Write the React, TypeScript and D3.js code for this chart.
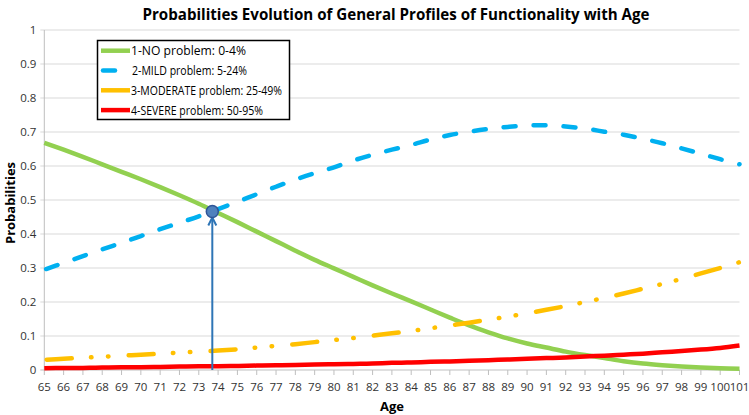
import React from "react";
import * as d3 from "d3";

const ages: number[] = [65,66,67,68,69,70,71,72,73,74,75,76,77,78,79,80,81,82,83,84,85,86,87,88,89,90,91,92,93,94,95,96,97,98,99,100,101];

const noProblem: number[] = [0.668,0.648,0.627,0.605,0.583,0.561,0.538,0.514,0.489,0.462,0.435,0.407,0.379,0.351,0.324,0.299,0.274,0.249,0.225,0.202,0.178,0.154,0.131,0.111,0.093,0.078,0.066,0.054,0.044,0.035,0.026,0.019,0.014,0.010,0.007,0.005,0.004];
const mildProblem: number[] = [0.295,0.315,0.335,0.355,0.374,0.394,0.414,0.433,0.452,0.473,0.495,0.517,0.539,0.560,0.579,0.596,0.616,0.633,0.648,0.662,0.678,0.691,0.701,0.709,0.715,0.719,0.720,0.716,0.710,0.701,0.692,0.680,0.667,0.652,0.636,0.620,0.605];
const moderateProblem: number[] = [0.030,0.033,0.036,0.039,0.042,0.045,0.048,0.051,0.054,0.057,0.061,0.066,0.071,0.076,0.082,0.088,0.094,0.101,0.108,0.115,0.123,0.131,0.139,0.148,0.157,0.167,0.177,0.188,0.200,0.212,0.225,0.239,0.253,0.268,0.284,0.300,0.317];
const severeProblem: number[] = [0.005,0.006,0.006,0.007,0.008,0.008,0.009,0.010,0.011,0.011,0.012,0.013,0.014,0.015,0.016,0.017,0.018,0.019,0.021,0.022,0.024,0.025,0.027,0.029,0.031,0.033,0.035,0.037,0.040,0.042,0.045,0.048,0.052,0.056,0.060,0.065,0.072];

const seriesNames: string[] = [
  "1-NO problem: 0-4%",
  "2-MILD problem: 5-24%",
  "3-MODERATE problem: 25-49%",
  "4-SEVERE problem: 50-95%",
];
const yTicks: number[] = [0,0.1,0.2,0.3,0.4,0.5,0.6,0.7,0.8,0.9,1];
const crossAge = 73.7;
const crossValue = 0.466;

const W = 749, H = 415;
const left = 44.3, right = 739.5, top = 30, bottom = 370;
const FONT = "'Open Sans', 'Noto Sans', sans-serif";
const legendTextWidths = [115, 115, 151, 132];

export default function App() {
  const x = d3.scaleLinear().domain([65, 101]).range([left, right]);
  const y = d3.scaleLinear().domain([0, 1]).range([bottom, top]);
  const line = (vals: number[]) =>
    d3.line<number>().x((_, i) => x(ages[i])).y((v) => y(v)).curve(d3.curveCatmullRom.alpha(0.5))(vals) || "";

  const styles = [
    { color: "#92d050", dash: undefined as string | undefined, offset: 0, cap: "butt" },
    { color: "#00b0f0", dash: "12 18", offset: -2, cap: "round" },
    { color: "#ffc000", dash: "25 19.25 0.5 16.5 0.5 20.25", offset: -2.5, cap: "round" },
    { color: "#ff0000", dash: undefined, offset: 0, cap: "butt" },
  ];
  const data = [noProblem, mildProblem, moderateProblem, severeProblem];

  const ax = x(crossAge), ay = y(crossValue);

  return (
    <svg width={W} height={H} style={{ position: "absolute", left: 0, top: 0, display: "block", background: "#fff" }}>
      <text x={396} y={20} textAnchor="middle" fontFamily={FONT} fontWeight="bold" fontSize={16} textLength={507} lengthAdjust="spacingAndGlyphs" fill="#000">
        Probabilities Evolution of General Profiles of Functionality with Age
      </text>
      {yTicks.map((t) => (
        <g key={t}>
          <line x1={left - 4} x2={right} y1={y(t)} y2={y(t)} stroke={t === 0 ? "#bfbfbf" : "#d9d9d9"} strokeWidth={1} />
          <text x={left - 8} y={y(t) + 4} textAnchor="end" fontFamily={FONT} fontSize={11.5} fill="#333">{t}</text>
        </g>
      ))}
      <line x1={left} x2={left} y1={top} y2={bottom} stroke="#bfbfbf" strokeWidth={1} />
      {ages.map((a) => (
        <g key={a}>
          <line x1={x(a)} x2={x(a)} y1={bottom} y2={bottom + 5} stroke="#bfbfbf" strokeWidth={1} />
          <text x={x(a)} y={391} textAnchor="middle" fontFamily={FONT} fontSize={11.5} fill="#333">{a}</text>
        </g>
      ))}
      <text x={392} y={411} textAnchor="middle" fontFamily={FONT} fontWeight="bold" fontSize={13} fill="#000">Age</text>
      <text transform="translate(15,203) rotate(-90)" textAnchor="middle" fontFamily={FONT} fontWeight="bold" fontSize={13} fill="#000">Probabilities</text>

      {data.map((vals, i) => (
        <path key={i} d={line(vals)} fill="none" stroke={styles[i].color} strokeWidth={4.5}
          strokeDasharray={styles[i].dash} strokeDashoffset={styles[i].offset} strokeLinecap={styles[i].cap as any} />
      ))}

      <line x1={ax} x2={ax} y1={bottom} y2={ay + 6} stroke="#2e75b6" strokeWidth={2} />
      <path d={`M${ax - 4},${ay + 14} L${ax},${ay + 6} L${ax + 4},${ay + 14}`} fill="none" stroke="#2e75b6" strokeWidth={2} />
      <circle cx={ax} cy={ay} r={6} fill="#4f81bd" stroke="#2f5597" strokeWidth={1.5} />

      <rect x={97.5} y={40.5} width={192} height={79} fill="#fff" stroke="#000" strokeWidth={1.5} />
      {seriesNames.map((n, i) => {
        const ly = 50.7 + i * 19.8;
        return (
          <g key={n}>
            {i === 1 ? (
              <line x1={103} x2={115} y1={ly} y2={ly} stroke={styles[i].color} strokeWidth={4.5} strokeLinecap="round" />
            ) : (
              <line x1={101} x2={130} y1={ly} y2={ly} stroke={styles[i].color} strokeWidth={4.5} />
            )}
            <text x={i === 1 ? 132 : 131} y={ly + 4.5} fontFamily={FONT} fontSize={12} textLength={legendTextWidths[i]} lengthAdjust="spacingAndGlyphs" fill="#000">{n}</text>
          </g>
        );
      })}
    </svg>
  );
}
